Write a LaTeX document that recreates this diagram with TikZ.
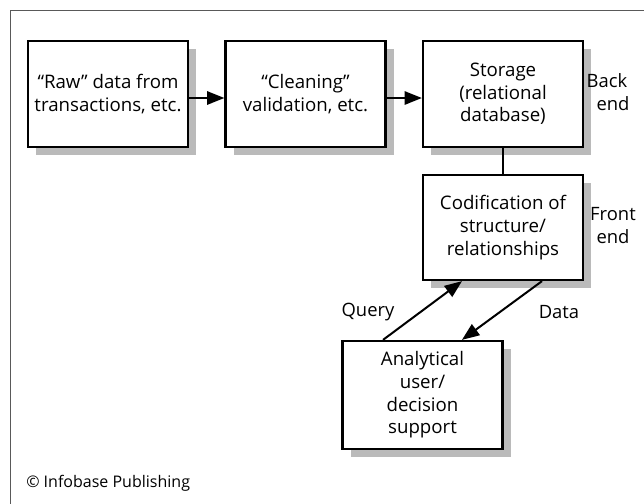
\documentclass[tikz,border=0pt]{standalone}
\usepackage{fontspec}
\setmainfont{Open Sans}
\usetikzlibrary{arrows.meta,shadows}
\begin{document}
\begin{tikzpicture}[x=0.75pt,y=-0.75pt,
  box/.style={draw, line width=1.7pt, fill=white, align=center, inner sep=0pt,
    minimum width=120pt, minimum height=80pt,
    font=\fontsize{14pt}{17pt}\selectfont,
    drop shadow={shadow xshift=6pt, shadow yshift=-6pt, fill=black!27, opacity=1}},
  lbl/.style={align=center, font=\fontsize{13.8pt}{17.25pt}\selectfont},
  arr/.style={line width=1.5pt, -{Triangle[length=13pt,width=10pt]}},
  frame/.style={draw=black!65, line width=1.1pt}]
\useasboundingbox (0,0) rectangle (644,504);
\draw[frame] (10.5,504) -- (10.5,10.5) -- (644,10.5);
\node[box] (b1) at (108,94) {“Raw” data from\\transactions, etc.};
\node[box] (b2) at (305.5,94) {“Cleaning”\\validation, etc.};
\node[box] (b3) at (503,94) {Storage\\(relational\\database)};
\node[box, minimum height=78.75pt] (b4) at (503,227.5) {Codification of\\structure/\\relationships};
\node[box, minimum height=81pt] (b5) at (422.5,395) {Analytical\\user/\\decision\\support};
\node[lbl] (back) at (607,92) {Back\\\hphantom{B}end};
\node[lbl] (front) at (613,226) {Front\\end};
\node[lbl] (query) at (368,312) {Query};
\node[lbl] (data) at (559,312) {Data};
\node[anchor=west, font=\fontsize{12pt}{14pt}\selectfont, inner sep=0pt] (copy) at (26,483) {© Infobase Publishing};
\draw[arr] ([yshift=-3pt]b1.east) -- ([yshift=-3pt]b2.west);
\draw[arr] ([yshift=-3pt]b2.east) -- ([yshift=-3pt]b3.west);
\draw[line width=1.5pt] (b3) -- (b4);
\draw[arr] ([xshift=-29.6pt]b5.north) -- ([xshift=-30.75pt]b4.south);
\draw[arr] ([xshift=29.25pt]b4.south) -- ([xshift=29.6pt]b5.north);
\end{tikzpicture}
\end{document}
